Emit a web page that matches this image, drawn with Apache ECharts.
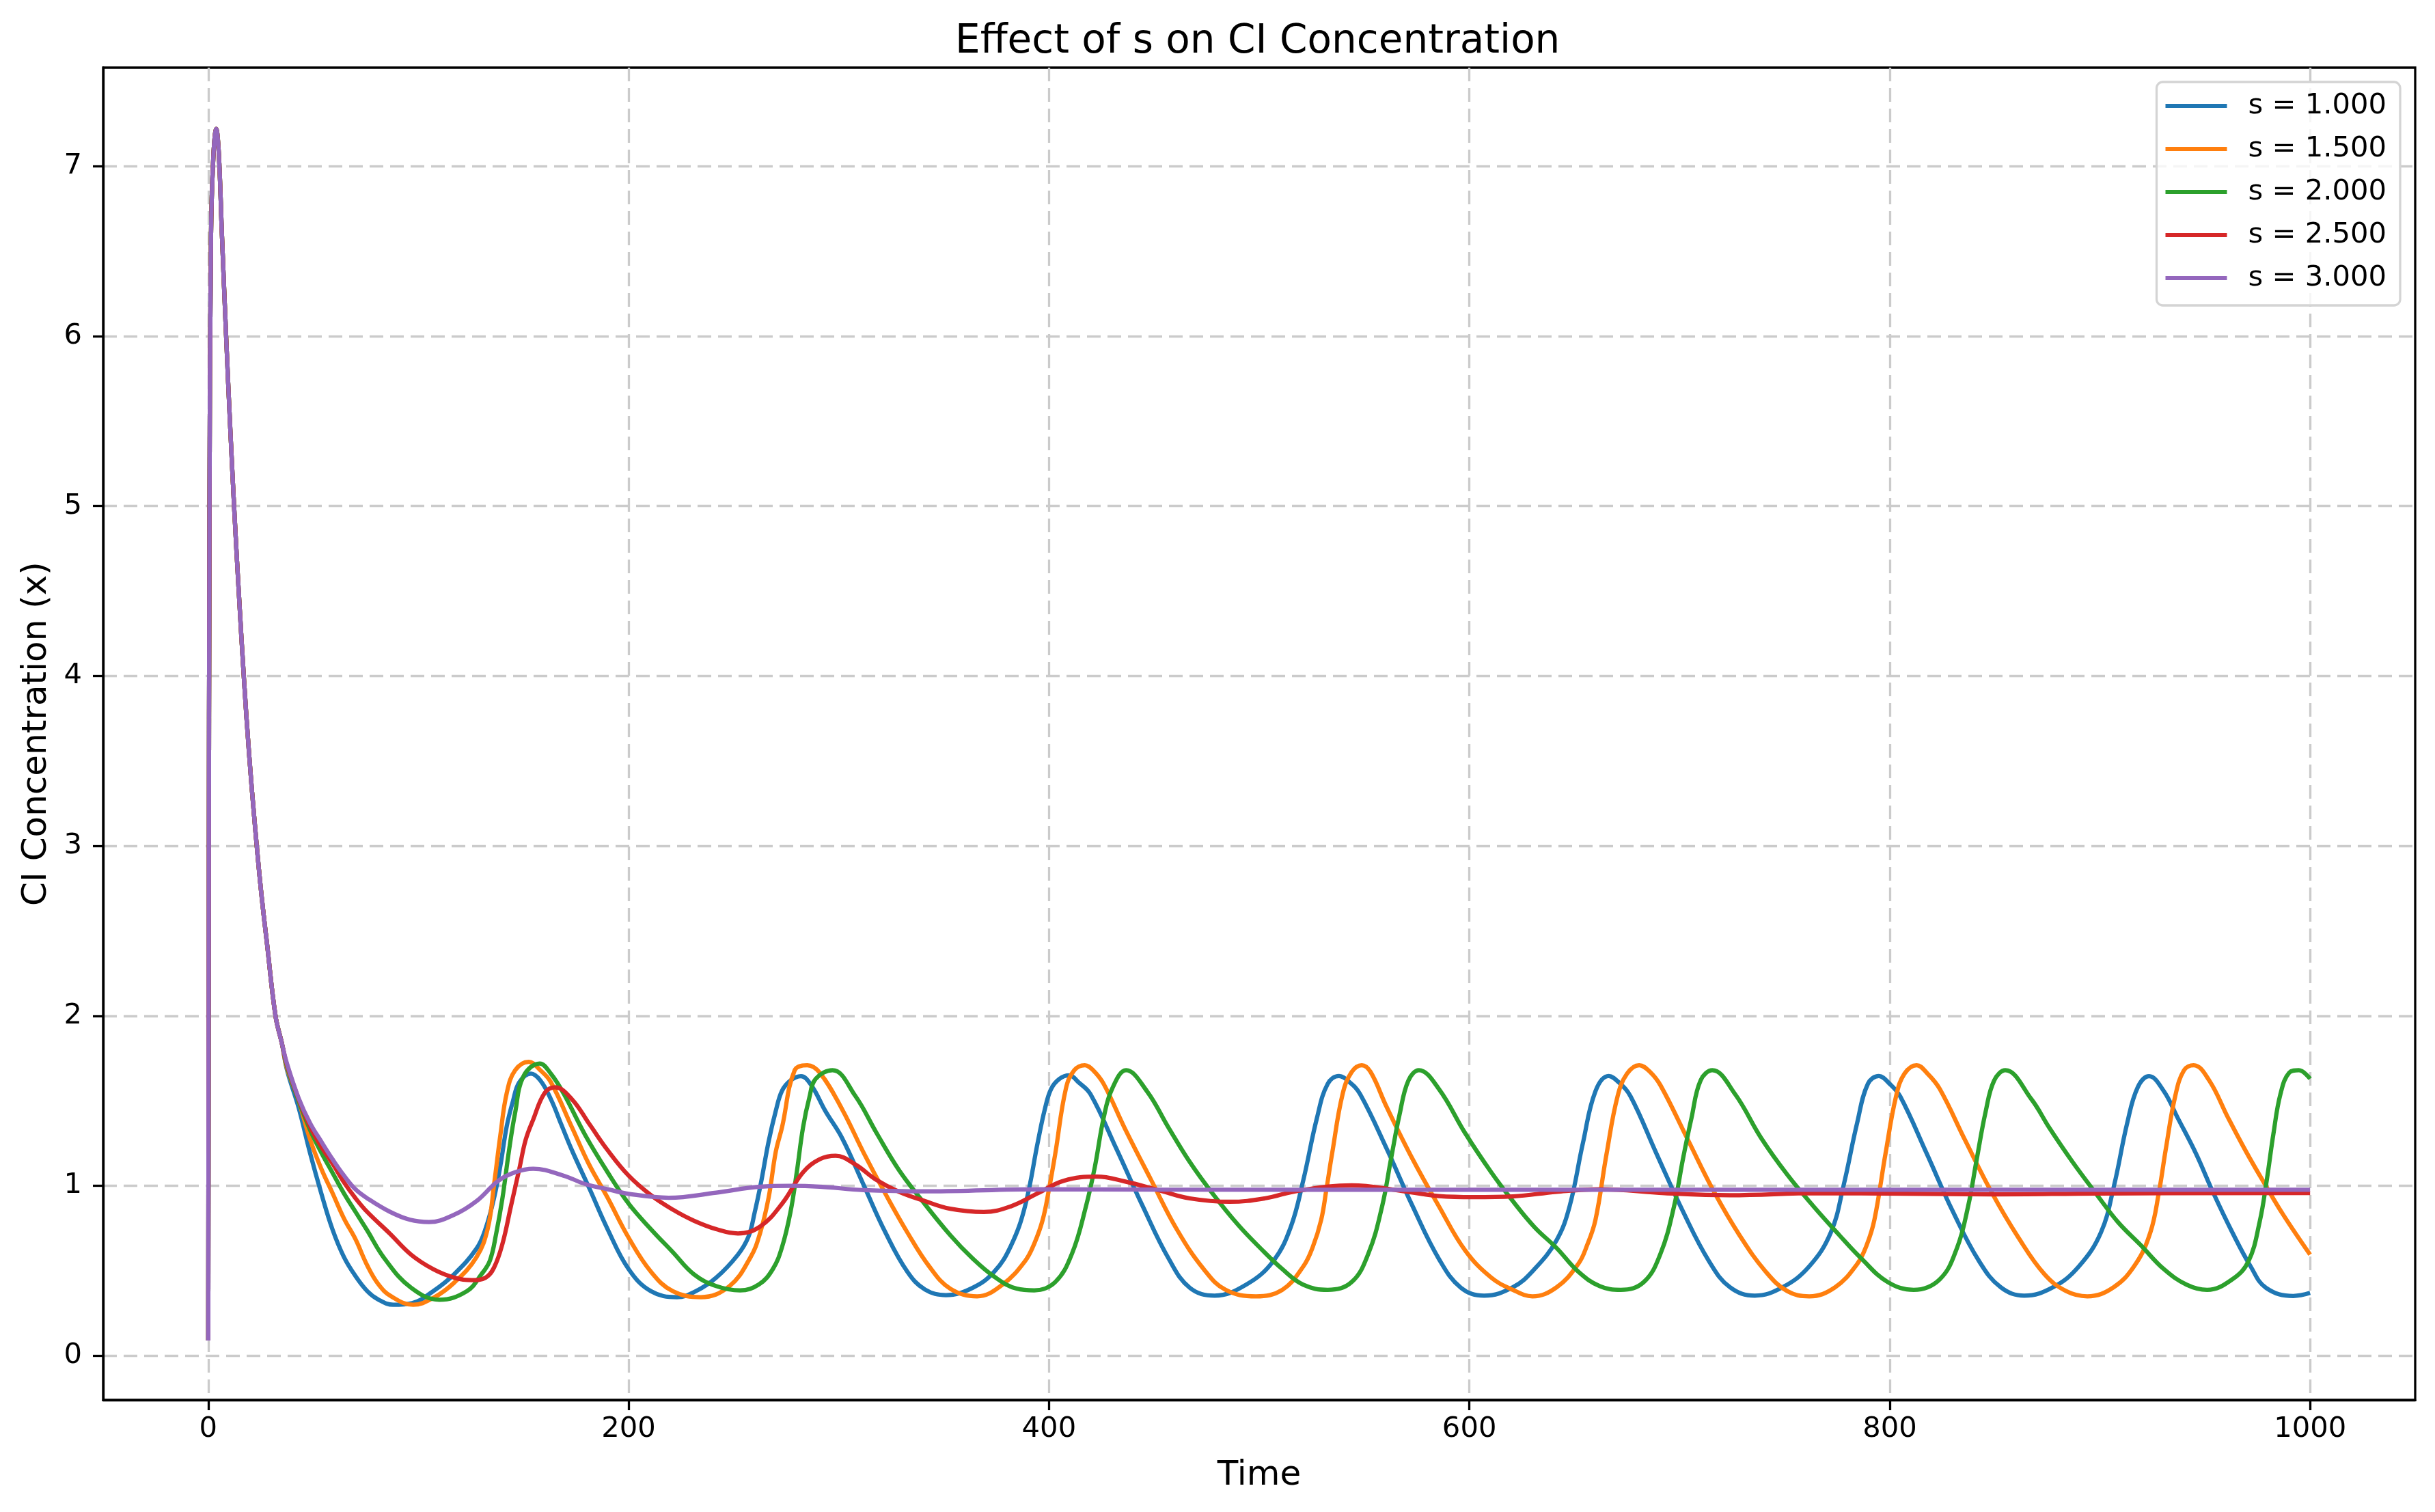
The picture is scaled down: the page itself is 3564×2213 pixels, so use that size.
<!DOCTYPE html>
<html>
<head>
<meta charset="utf-8">
<script src="https://cdn.jsdelivr.net/npm/echarts@6/dist/echarts.min.js"></script>
<style>
  html, body { margin: 0; padding: 0; background: #fff; }
  #chart { width: 3564px; height: 2213px; }
</style>
</head>
<body>
<div id="chart"></div>
<script>
// shared start: every run begins with the same spike
const headTime = [0, 0.25, 0.6, 1.3, 2.4, 3.8, 5, 6.5, 8.5, 10.5, 12.5, 14.5, 17, 19.5, 22, 25, 28, 32, 35];
const headValue = [0.09, 2.5, 5.0, 6.58, 7.05, 7.22, 7.08, 6.6, 6.0, 5.45, 4.95, 4.5, 3.98, 3.53, 3.15, 2.75, 2.42, 2.0, 1.84];

// s = 1.000
const blueTime = [37.5, 43, 48.4, 53.8, 59.2, 64.6, 70, 75.7, 81, 88, 97, 107, 117, 127.6, 132, 136, 139, 142, 145, 148, 153.5, 158, 163, 168, 173, 181.5, 190, 200, 210.6, 223, 232, 241.7, 252, 257, 260, 263, 266.6, 270, 273, 277, 282, 287, 293.6, 301.6, 312, 322, 332.6, 341, 351, 363.7, 374, 382, 388.6, 394.8, 398, 401, 405, 409.7, 414, 419.7, 432, 444.6, 457, 467, 478.8, 494, 506.7, 515, 521, 527.5, 532.6, 538, 543, 548, 560.6, 573, 585.5, 596, 607, 620.7, 631, 641.5, 647.7, 654, 660, 666.3, 671, 676.7, 689, 701.6, 714, 724, 735.8, 749, 761.7, 772, 778, 784.5, 789.6, 794.8, 800, 805, 817.6, 830, 842.5, 852.8, 864, 877.7, 890, 900.5, 906.7, 913, 918, 923.4, 930.4, 937, 945.7, 954, 963, 971.7, 979, 992, 1000];
const blueValue = [1.68, 1.46, 1.195, 0.955, 0.74, 0.58, 0.47, 0.38, 0.33, 0.3, 0.31, 0.38, 0.48, 0.63, 0.75, 0.93, 1.12, 1.35, 1.5, 1.61, 1.66, 1.62, 1.51, 1.36, 1.21, 0.98, 0.745, 0.51, 0.38, 0.345, 0.38, 0.46, 0.595, 0.7, 0.845, 1.02, 1.26, 1.44, 1.56, 1.62, 1.645, 1.59, 1.44, 1.28, 1.0, 0.73, 0.495, 0.39, 0.357, 0.4, 0.495, 0.65, 0.88, 1.265, 1.45, 1.57, 1.63, 1.65, 1.61, 1.54, 1.22, 0.88, 0.57, 0.4, 0.354, 0.42, 0.557, 0.757, 1.034, 1.4, 1.6, 1.646, 1.61, 1.54, 1.22, 0.88, 0.57, 0.4, 0.354, 0.403, 0.51, 0.68, 0.88, 1.25, 1.557, 1.646, 1.61, 1.526, 1.19, 0.85, 0.557, 0.403, 0.354, 0.403, 0.526, 0.726, 1.0, 1.37, 1.6, 1.646, 1.6, 1.526, 1.19, 0.85, 0.557, 0.403, 0.354, 0.403, 0.526, 0.726, 1.0, 1.37, 1.58, 1.645, 1.557, 1.4, 1.19, 0.957, 0.726, 0.526, 0.4, 0.352, 0.37];

// s = 1.500
const orangeTime = [37.5, 43, 48.4, 53.8, 59.2, 64.6, 70, 75.7, 81, 87, 97.5, 107, 117, 127.6, 133, 136, 139, 142, 146, 152.5, 158, 163, 173, 181, 190, 200, 210.6, 221, 234.4, 248, 258, 262.5, 266.6, 270, 273, 279, 285, 291, 301.6, 312, 322, 332.6, 343, 353, 365.8, 378, 388.6, 393, 397, 400, 403, 408, 412, 417, 421, 426, 436, 448.6, 461, 473.6, 484, 498.4, 511, 521, 525.5, 529.5, 532, 534.7, 539.7, 544, 548.8, 553, 560.6, 573, 585.5, 598, 610.4, 620.7, 630, 641.5, 651.8, 656, 660, 665.3, 670.5, 675, 680.8, 686, 691, 703.6, 716, 728.5, 741, 751.3, 761.7, 774, 784.5, 789, 792.7, 798, 803, 807, 812.8, 818, 823.8, 836, 848.7, 861, 873.6, 884, 894, 906.5, 917, 924, 928, 931.4, 935.8, 940, 944.6, 952, 961, 969.6, 978, 987, 1000];
const orangeValue = [1.69, 1.5, 1.275, 1.1, 0.955, 0.807, 0.687, 0.53, 0.42, 0.35, 0.3, 0.34, 0.43, 0.58, 0.75, 1.01, 1.3, 1.545, 1.68, 1.73, 1.68, 1.61, 1.345, 1.13, 0.93, 0.695, 0.495, 0.38, 0.345, 0.41, 0.58, 0.72, 0.93, 1.2, 1.345, 1.68, 1.71, 1.665, 1.45, 1.19, 0.957, 0.726, 0.526, 0.395, 0.35, 0.42, 0.557, 0.66, 0.8, 0.98, 1.19, 1.57, 1.68, 1.71, 1.68, 1.6, 1.34, 1.034, 0.74, 0.51, 0.388, 0.35, 0.388, 0.526, 0.64, 0.8, 0.98, 1.19, 1.54, 1.67, 1.71, 1.67, 1.465, 1.157, 0.88, 0.62, 0.46, 0.388, 0.35, 0.403, 0.54, 0.65, 0.8, 1.19, 1.526, 1.66, 1.71, 1.67, 1.59, 1.28, 0.974, 0.71, 0.495, 0.38, 0.35, 0.403, 0.54, 0.65, 0.8, 1.19, 1.526, 1.66, 1.71, 1.66, 1.57, 1.265, 0.957, 0.7, 0.48, 0.38, 0.35, 0.403, 0.54, 0.726, 0.957, 1.22, 1.526, 1.68, 1.71, 1.62, 1.4, 1.2, 1.02, 0.834, 0.595];

// s = 2.000
const greenTime = [37.5, 43, 48.4, 53.8, 59.2, 64.6, 70, 75.5, 84, 96.5, 110, 123, 130, 134, 137, 140, 143, 146, 150, 157.7, 163, 169, 179.5, 190, 200, 210.6, 221, 231, 241.7, 253, 262, 268.6, 273, 277, 280, 283, 286, 289, 297, 307.8, 318, 328.5, 338.8, 353, 363.7, 374, 384.6, 393, 403, 411, 417.6, 421.8, 426, 430, 436.7, 446.6, 457, 467, 477.7, 490, 500.5, 511, 521, 532.6, 544, 552, 558.5, 562.7, 566.8, 571, 576, 585.5, 598, 610.4, 620.7, 631, 641.5, 651.8, 662, 672, 683, 691, 697.4, 701.6, 705.7, 710, 715.6, 726.4, 738.9, 751.3, 763.7, 776, 786.5, 799, 811.4, 823.8, 832, 837.3, 841.4, 845.6, 849.7, 855, 867.4, 876, 887, 898, 908.5, 919.5, 930.4, 941.3, 951, 963, 970.7, 976, 979.4, 982.6, 985.9, 990, 994.6, 1000];
const greenValue = [1.7, 1.5, 1.33, 1.195, 1.075, 0.955, 0.848, 0.74, 0.57, 0.4, 0.33, 0.38, 0.48, 0.56, 0.72, 0.93, 1.2, 1.43, 1.645, 1.72, 1.66, 1.545, 1.295, 1.08, 0.895, 0.745, 0.61, 0.48, 0.41, 0.385, 0.42, 0.51, 0.64, 0.845, 1.08, 1.345, 1.52, 1.63, 1.68, 1.53, 1.31, 1.095, 0.926, 0.71, 0.572, 0.465, 0.395, 0.385, 0.434, 0.603, 0.88, 1.11, 1.4, 1.57, 1.68, 1.557, 1.34, 1.14, 0.957, 0.77, 0.634, 0.51, 0.418, 0.388, 0.434, 0.603, 0.88, 1.157, 1.42, 1.62, 1.68, 1.57, 1.31, 1.08, 0.91, 0.757, 0.634, 0.495, 0.41, 0.388, 0.434, 0.603, 0.88, 1.157, 1.4, 1.62, 1.68, 1.54, 1.28, 1.065, 0.88, 0.71, 0.572, 0.434, 0.388, 0.45, 0.634, 0.88, 1.157, 1.434, 1.62, 1.68, 1.51, 1.34, 1.14, 0.957, 0.788, 0.65, 0.51, 0.418, 0.388, 0.45, 0.557, 0.788, 1.035, 1.31, 1.54, 1.665, 1.68, 1.63];

// s = 2.500
const redTime = [37.5, 43, 48.4, 53.8, 59.2, 64.6, 70, 75.5, 86.3, 96.5, 107, 117, 125.5, 132, 136, 140, 144, 148, 151, 154.6, 160, 165, 173, 181.5, 190, 200, 210.6, 221, 231, 241.7, 252, 262.5, 273, 283, 291, 298.5, 307.8, 318, 328.5, 341, 353, 369, 382, 394.8, 407, 422.8, 436, 452.8, 467, 486, 502.6, 519, 544, 566.8, 585.5, 602, 620.7, 641.5, 662, 693, 724, 766, 807, 849, 900, 1000];
const redValue = [1.71, 1.51, 1.35, 1.23, 1.13, 1.02, 0.928, 0.848, 0.72, 0.595, 0.51, 0.46, 0.445, 0.46, 0.52, 0.66, 0.88, 1.1, 1.27, 1.39, 1.545, 1.58, 1.51, 1.36, 1.21, 1.06, 0.945, 0.86, 0.795, 0.745, 0.72, 0.76, 0.895, 1.08, 1.157, 1.177, 1.126, 1.034, 0.966, 0.91, 0.865, 0.846, 0.88, 0.957, 1.03, 1.054, 1.026, 0.972, 0.926, 0.906, 0.926, 0.972, 1.003, 0.972, 0.94, 0.934, 0.938, 0.965, 0.98, 0.957, 0.945, 0.957, 0.954, 0.95, 0.955, 0.958];

// s = 3.000
const purpleTime = [37.5, 43, 48.4, 53.8, 59.2, 64.6, 70, 75.5, 86.3, 96, 105, 117, 127.6, 138, 146, 154.6, 169, 179.5, 190, 200, 219, 241.7, 262.5, 277, 291, 312, 343, 395, 450, 600, 1000];
const purpleValue = [1.717, 1.516, 1.37, 1.26, 1.155, 1.06, 0.98, 0.928, 0.848, 0.8, 0.787, 0.83, 0.91, 1.03, 1.08, 1.1, 1.06, 1.01, 0.98, 0.953, 0.93, 0.96, 0.995, 1.0, 0.995, 0.975, 0.968, 0.98, 0.978, 0.977, 0.977];

const seriesNames = ["s = 1.000", "s = 1.500", "s = 2.000", "s = 2.500", "s = 3.000"];
const seriesColors = ["#1f77b4", "#ff7f0e", "#2ca02c", "#d62728", "#9467bd"];
const xTicks = [0, 200, 400, 600, 800, 1000];
const yTicks = [0, 1, 2, 3, 4, 5, 6, 7];

const runs = [
  [blueTime, blueValue],
  [orangeTime, orangeValue],
  [greenTime, greenValue],
  [redTime, redValue],
  [purpleTime, purpleValue],
];

const toPairs = (times, values) => times.map((t, i) => [t, values[i]]);

const font = "DejaVu Sans";
const gridLine = { color: "#cbcbcb", width: 3.3, type: [20, 10] };

const chart = echarts.init(document.getElementById("chart"), null, { renderer: "canvas" });

const option = {
  animation: false,
  backgroundColor: "#fff",
  color: seriesColors,
  title: {
    text: "Effect of s on CI Concentration",
    left: 1398,
    top: 33,
    padding: 0,
    textStyle: { fontFamily: font, fontSize: 58, fontWeight: "normal", color: "#000" },
  },
  grid: {
    left: 151, right: 29, top: 99, bottom: 164,
    show: true, borderColor: "#000", borderWidth: 3.3, backgroundColor: "transparent",
  },
  legend: {
    data: seriesNames,
    orient: "vertical",
    right: 51,
    top: 120,
    icon: "rect",
    itemWidth: 90,
    itemHeight: 6,
    itemGap: 21,
    padding: [14, 20, 19, 13],
    backgroundColor: "rgba(255,255,255,0.8)",
    borderColor: "#d4d4d4",
    borderWidth: 3.3,
    borderRadius: 9,
    textStyle: { fontFamily: font, fontSize: 41.7, color: "#000", lineHeight: 42, padding: [0, 0, 0, 26] },
  },
  xAxis: {
    type: "value",
    min: -50,
    max: 1050,
    name: "Time",
    nameLocation: "middle",
    nameGap: 86,
    nameTextStyle: { fontFamily: font, fontSize: 50, color: "#000" },
    axisLine: { show: true, onZero: false, lineStyle: { color: "#000", width: 3.3 } },
    axisTick: { show: true, length: 15, customValues: xTicks, lineStyle: { color: "#000", width: 3.3 } },
    axisLabel: { customValues: xTicks, margin: 22, fontFamily: font, fontSize: 41.7, color: "#000", formatter: (v) => String(v) },
    splitLine: { show: true, lineStyle: gridLine },
  },
  yAxis: {
    type: "value",
    min: -0.26,
    max: 7.58,
    name: "CI Concentration (x)",
    nameLocation: "middle",
    nameGap: 72,
    nameTextStyle: { fontFamily: font, fontSize: 50, color: "#000" },
    axisLine: { show: true, onZero: false, lineStyle: { color: "#000", width: 3.3 } },
    axisTick: { show: true, length: 15, customValues: yTicks, lineStyle: { color: "#000", width: 3.3 } },
    axisLabel: { customValues: yTicks, margin: 31, fontFamily: font, fontSize: 41.7, color: "#000", formatter: (v) => String(v) },
    splitLine: { show: true, lineStyle: gridLine },
  },
  series: runs.map(([times, values], i) => ({
    name: seriesNames[i],
    type: "line",
    data: toPairs(headTime, headValue).concat(toPairs(times, values)),
    showSymbol: false,
    smooth: 0.4,
    lineStyle: { width: 6.25, color: seriesColors[i] },
    itemStyle: { color: seriesColors[i] },
  })),
};

chart.setOption(option);
</script>
</body>
</html>
